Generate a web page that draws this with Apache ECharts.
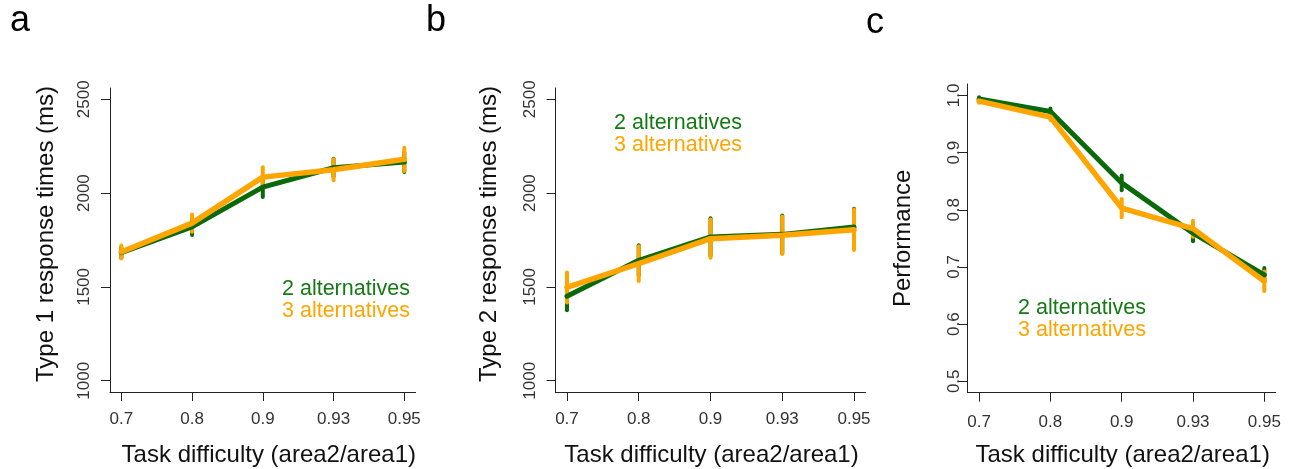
<!DOCTYPE html>
<html>
<head>
<meta charset="utf-8">
<script src="https://cdn.jsdelivr.net/npm/echarts@6/dist/echarts.min.js"></script>
<style>
  html, body { margin: 0; padding: 0; background: #fff; }
  #chart { width: 1293px; height: 469px; }
</style>
</head>
<body>
<div id="chart"></div>
<script>
// ---- data ----
const xLabels = ['0.7', '0.8', '0.9', '0.93', '0.95'];
const xPos = [1, 2, 3, 4, 5];
const seriesNames = ['2 alternatives', '3 alternatives'];

// Panel a: Type 1 response times (ms)
const a2 = [1682, 1820, 2032, 2135, 2165];
const a2err = [28, 44, 53, 48, 53];
const a3 = [1686, 1840, 2085, 2124, 2180];
const a3err = [35, 46, 53, 56, 62];

// Panel b: Type 2 response times (ms)
const b2 = [1450, 1642, 1766, 1780, 1819];
const b2err = [75, 80, 100, 100, 98];
const b3 = [1497, 1624, 1757, 1775, 1805];
const b3err = [80, 93, 102, 100, 108];

// Panel c: Performance
const c2 = [0.994, 0.972, 0.847, 0.759, 0.686];
const c2err = [0.003, 0.005, 0.013, 0.014, 0.012];
const c3 = [0.990, 0.962, 0.803, 0.767, 0.675];
const c3err = [0.003, 0.005, 0.016, 0.014, 0.017];

const yTicksRT = [1000, 1500, 2000, 2500];
const yTicksPerf = [0.5, 0.6, 0.7, 0.8, 0.9, 1.0];

// ---- style ----
const GREEN = '#0a6a0a';
const GREEN_TEXT = '#157a15';
const ORANGE = '#ffa500';
const AXIS = '#222';
const FONT = 'Liberation Sans, Arial, sans-serif';

const chart = echarts.init(document.getElementById('chart'), null, { renderer: 'canvas' });

function pts(vals) { return vals.map((v, i) => [xPos[i], v]); }
function errPts(vals, errs) { return vals.map((v, i) => [xPos[i], v, errs[i]]); }

function errSeries(name, idx, vals, errs, color) {
  return {
    type: 'custom', name: name, xAxisIndex: idx, yAxisIndex: idx,
    data: errPts(vals, errs),
    encode: { x: 0, y: 1 },
    silent: true,
    renderItem: function (params, api) {
      const x = api.value(0), v = api.value(1), e = api.value(2);
      const p1 = api.coord([x, v - e]);
      const p2 = api.coord([x, v + e]);
      return {
        type: 'line',
        shape: { x1: p1[0], y1: p1[1], x2: p2[0], y2: p2[1] },
        style: { stroke: color, lineWidth: 4, lineCap: 'round' }
      };
    }
  };
}
function lineSeries(name, idx, vals, color, w) {
  return {
    type: 'line', name: name, xAxisIndex: idx, yAxisIndex: idx,
    data: pts(vals), showSymbol: false, symbol: 'none', silent: true,
    lineStyle: { color: color, width: w, cap: 'round', join: 'round' },
    itemStyle: { color: color },
    animation: false
  };
}

function xAxisDef(idx, labelMargin, namePad) {
  return {
    type: 'value', gridIndex: idx, min: 0.84, max: 5.16,
    axisLine: { show: true, onZero: false, lineStyle: { color: AXIS, width: 1 } },
    axisTick: { show: true, length: 9, customValues: xPos, lineStyle: { color: AXIS, width: 1 } },
    axisLabel: {
      customValues: xPos, margin: labelMargin, fontSize: 17, color: '#333', fontFamily: FONT,
      formatter: function (v) { return xLabels[Math.round(v) - 1]; }
    },
    splitLine: { show: false },
    name: 'Task difficulty (area2/area1)', nameLocation: 'middle', nameGap: 51,
    nameTextStyle: { fontSize: 24, color: '#111', fontFamily: FONT, padding: namePad }
  };
}
function yAxisDef(idx, min, max, ticks, name, labelMargin, nameGap, namePad, fmt) {
  return {
    type: 'value', gridIndex: idx, min: min, max: max,
    axisLine: { show: true, onZero: false, lineStyle: { color: AXIS, width: 1 } },
    axisTick: { show: true, length: 9, customValues: ticks, lineStyle: { color: AXIS, width: 1 } },
    axisLabel: {
      customValues: ticks, rotate: 90, margin: labelMargin, fontSize: 17, color: '#333', fontFamily: FONT,
      formatter: fmt
    },
    splitLine: { show: false },
    name: name, nameLocation: 'middle', nameGap: nameGap,
    nameTextStyle: { fontSize: 24, color: '#111', fontFamily: FONT, padding: namePad }
  };
}

function legendDef(left, top) {
  return {
    orient: 'vertical', left: left, top: top, padding: 0, itemGap: 0,
    itemWidth: 0, itemHeight: 22, icon: 'rect', selectedMode: false,
    textStyle: { fontSize: 21.5, lineHeight: 22, fontFamily: FONT },
    data: [
      { name: seriesNames[0], textStyle: { color: GREEN_TEXT } },
      { name: seriesNames[1], textStyle: { color: ORANGE } }
    ]
  };
}

const option = {
  animation: false,
  backgroundColor: '#fff',
  title: [
    { text: 'a', left: 10, top: 3, padding: 0, textStyle: { fontSize: 36, fontWeight: 'normal', color: '#000', fontFamily: FONT } },
    { text: 'b', left: 426, top: 3, padding: 0, textStyle: { fontSize: 36, fontWeight: 'normal', color: '#000', fontFamily: FONT } },
    { text: 'c', left: 866, top: 5, padding: 0, textStyle: { fontSize: 36, fontWeight: 'normal', color: '#000', fontFamily: FONT } }
  ],
  grid: [
    { left: 110, top: 88, width: 305.6, height: 304, outerBoundsMode: 'none', containLabel: false },
    { left: 555.5, top: 88, width: 310, height: 304, outerBoundsMode: 'none', containLabel: false },
    { left: 967.7, top: 84, width: 308, height: 308.7, outerBoundsMode: 'none', containLabel: false }
  ],
  xAxis: [
    xAxisDef(0, 19, [0, 0, 0, 12]),
    xAxisDef(1, 19, [0, 0, 0, 2]),
    xAxisDef(2, 21, [0, 0, 0, 2])
  ],
  yAxis: [
    yAxisDef(0, 940, 2560, yTicksRT, 'Type 1 response times (ms)', 17, 52, [0, 0, 0, 12], v => String(v)),
    yAxisDef(1, 940, 2560, yTicksRT, 'Type 2 response times (ms)', 17, 54, [0, 0, 0, 12], v => String(v)),
    yAxisDef(2, 0.48, 1.02, yTicksPerf, 'Performance', 5, 52, [0, 0, 0, 0], v => v.toFixed(1))
  ],
  legend: [
    legendDef(277, 278),
    legendDef(609, 112),
    legendDef(1013, 297)
  ],
  series: [
    lineSeries(seriesNames[0], 0, a2, GREEN, 5),
    errSeries(seriesNames[0], 0, a2, a2err, GREEN),
    lineSeries(seriesNames[1], 0, a3, ORANGE, 5.5),
    errSeries(seriesNames[1], 0, a3, a3err, ORANGE),

    lineSeries(seriesNames[0], 1, b2, GREEN, 5),
    errSeries(seriesNames[0], 1, b2, b2err, GREEN),
    lineSeries(seriesNames[1], 1, b3, ORANGE, 5.5),
    errSeries(seriesNames[1], 1, b3, b3err, ORANGE),

    lineSeries(seriesNames[0], 2, c2, GREEN, 5),
    errSeries(seriesNames[0], 2, c2, c2err, GREEN),
    lineSeries(seriesNames[1], 2, c3, ORANGE, 5.5),
    errSeries(seriesNames[1], 2, c3, c3err, ORANGE)
  ]
};
chart.setOption(option);
</script>
</body>
</html>
